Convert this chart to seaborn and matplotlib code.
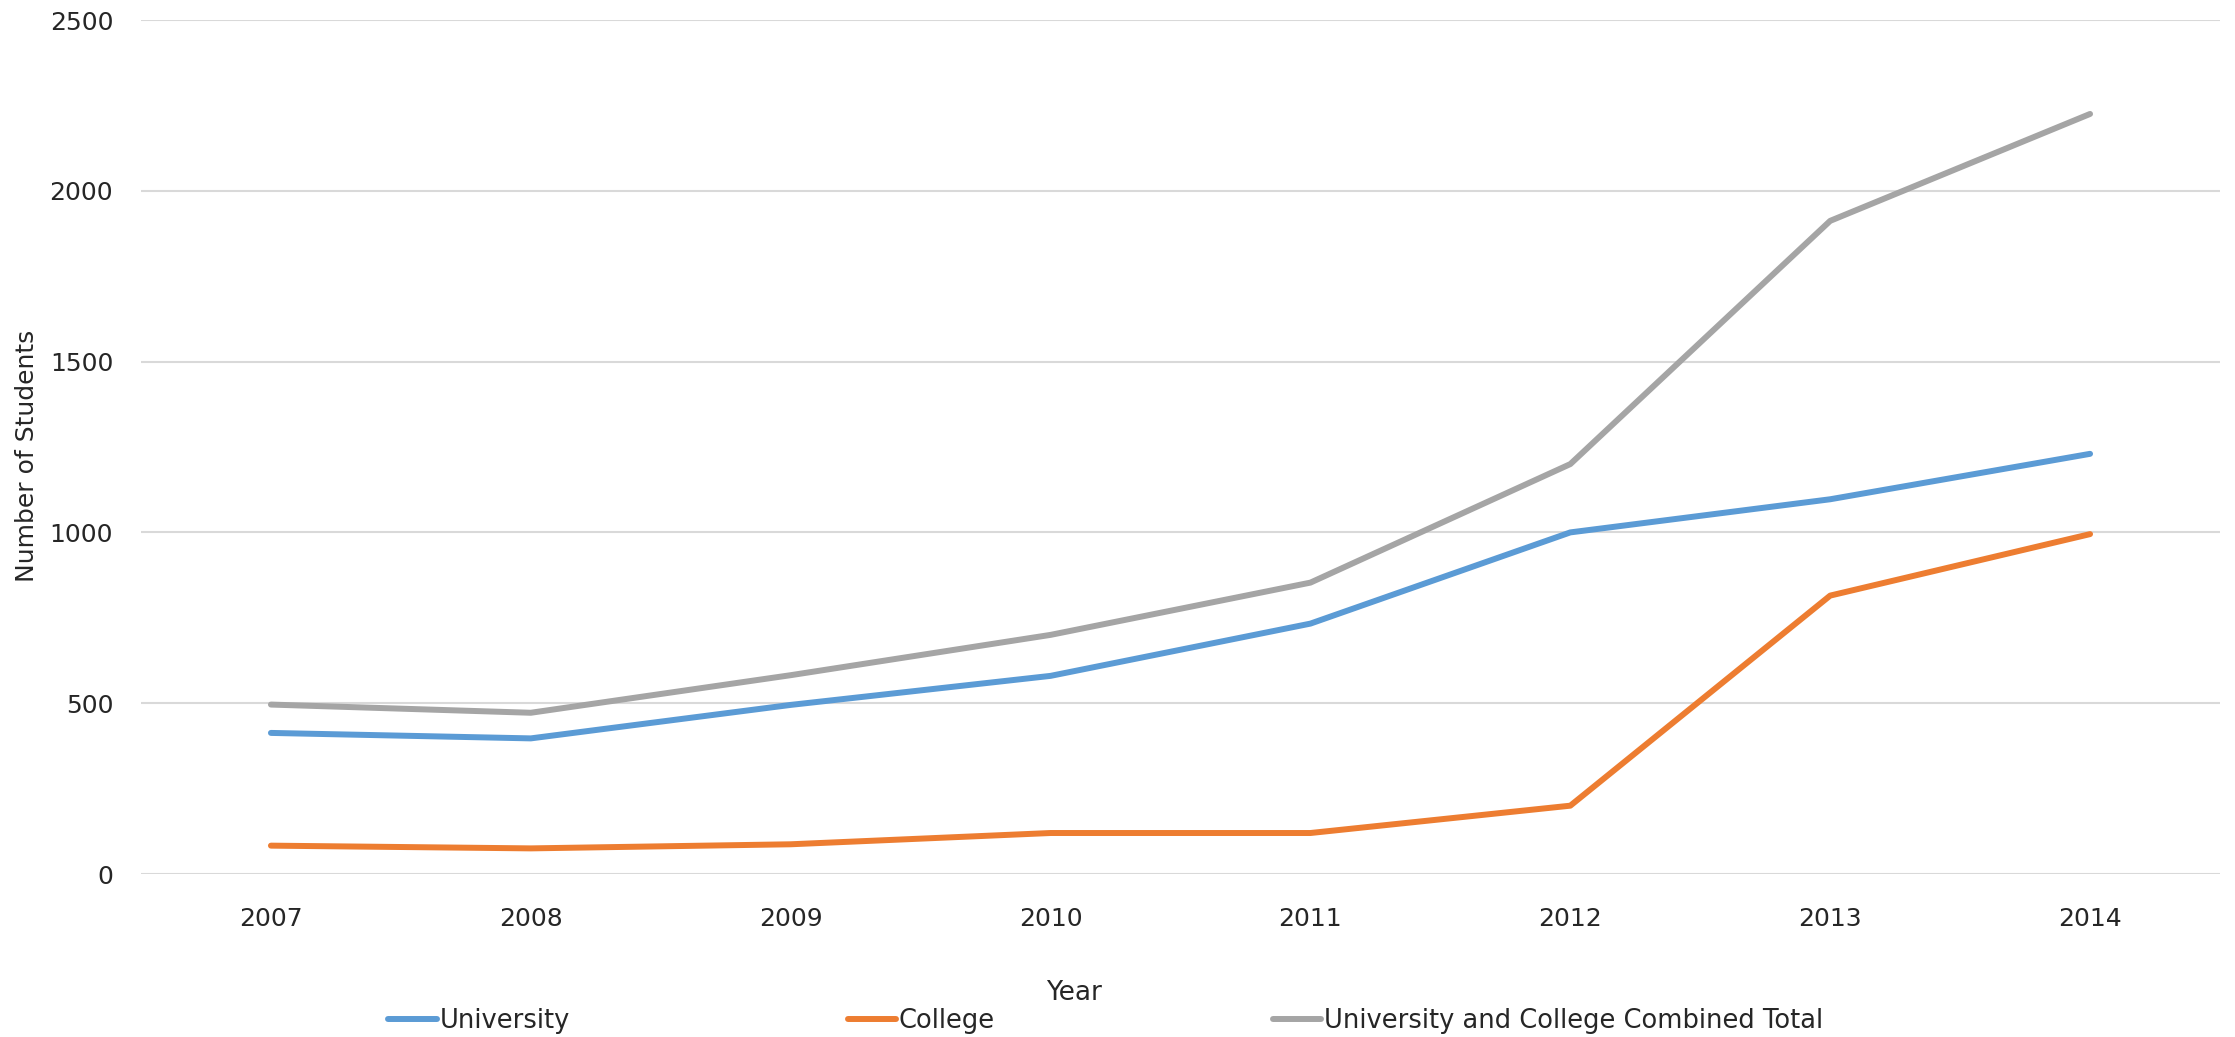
import matplotlib
matplotlib.use("Agg")
import matplotlib.pyplot as plt
import pandas as pd
import seaborn as sns

years = ["2007", "2008", "2009", "2010", "2011", "2012", "2013", "2014"]
university = [413, 397, 495, 580, 733, 1000, 1097, 1230]
college = [83, 75, 87, 120, 120, 200, 815, 995]
combined = [496, 472, 582, 700, 853, 1200, 1912, 2225]

series_names = ["University", "College", "University and College Combined Total"]
series_colors = ["#5B9BD5", "#ED7D31", "#A5A5A5"]
y_ticks = [0, 500, 1000, 1500, 2000, 2500]

frames = []
for name, vals in zip(series_names, [university, college, combined]):
    frames.append(pd.DataFrame({"Year": years, "Students": vals, "Series": name}))
df = pd.concat(frames, ignore_index=True)

sns.set_theme(style="white")
plt.rcParams["font.family"] = ["DejaVu Sans"]

W, H, DPI = 2235, 1037, 100
fig = plt.figure(figsize=(W / DPI, H / DPI), dpi=DPI)
left, right, top, bottom = 141, 2220, 20, 874
ax = fig.add_axes([left / W, 1 - bottom / H, (right - left) / W, (bottom - top) / H])

sns.lineplot(
    data=df, x="Year", y="Students", hue="Series", hue_order=series_names,
    palette=series_colors, linewidth=4.3, sort=False, ax=ax,
    solid_capstyle="round", solid_joinstyle="round", legend=True,
)

ax.set_xlim(-0.5, len(years) - 0.5)
ax.set_ylim(0, 2500)
ax.set_yticks(y_ticks)
ax.set_yticklabels([str(t) for t in y_ticks])
ax.grid(axis="y", color="#D9D9D9", linewidth=1.5)
ax.grid(axis="x", visible=False)
ax.set_axisbelow(True)
for s in ax.spines.values():
    s.set_visible(False)
ax.tick_params(axis="both", length=0, labelsize=18, colors="#262626")
ax.tick_params(axis="x", pad=24)
ax.tick_params(axis="y", pad=20)

ax.set_ylabel("Number of Students", fontsize=18, color="#262626")
ax.yaxis.set_label_coords(-0.049, 0.49)
ax.set_xlabel("Year", fontsize=19, color="#262626")
ax.xaxis.set_label_coords(0.449, -0.124)

handles, labels = ax.get_legend_handles_labels()
for h in handles:
    h.set_linewidth(4.3)
ax.legend(
    handles, labels, loc="center", bbox_to_anchor=(0.464, -0.172), ncol=3,
    frameon=False, fontsize=18.5, handlelength=1.9, handletextpad=0.1,
    columnspacing=10.8, labelcolor="#262626",
)

fig.savefig("out.png", dpi=DPI, facecolor="white")
